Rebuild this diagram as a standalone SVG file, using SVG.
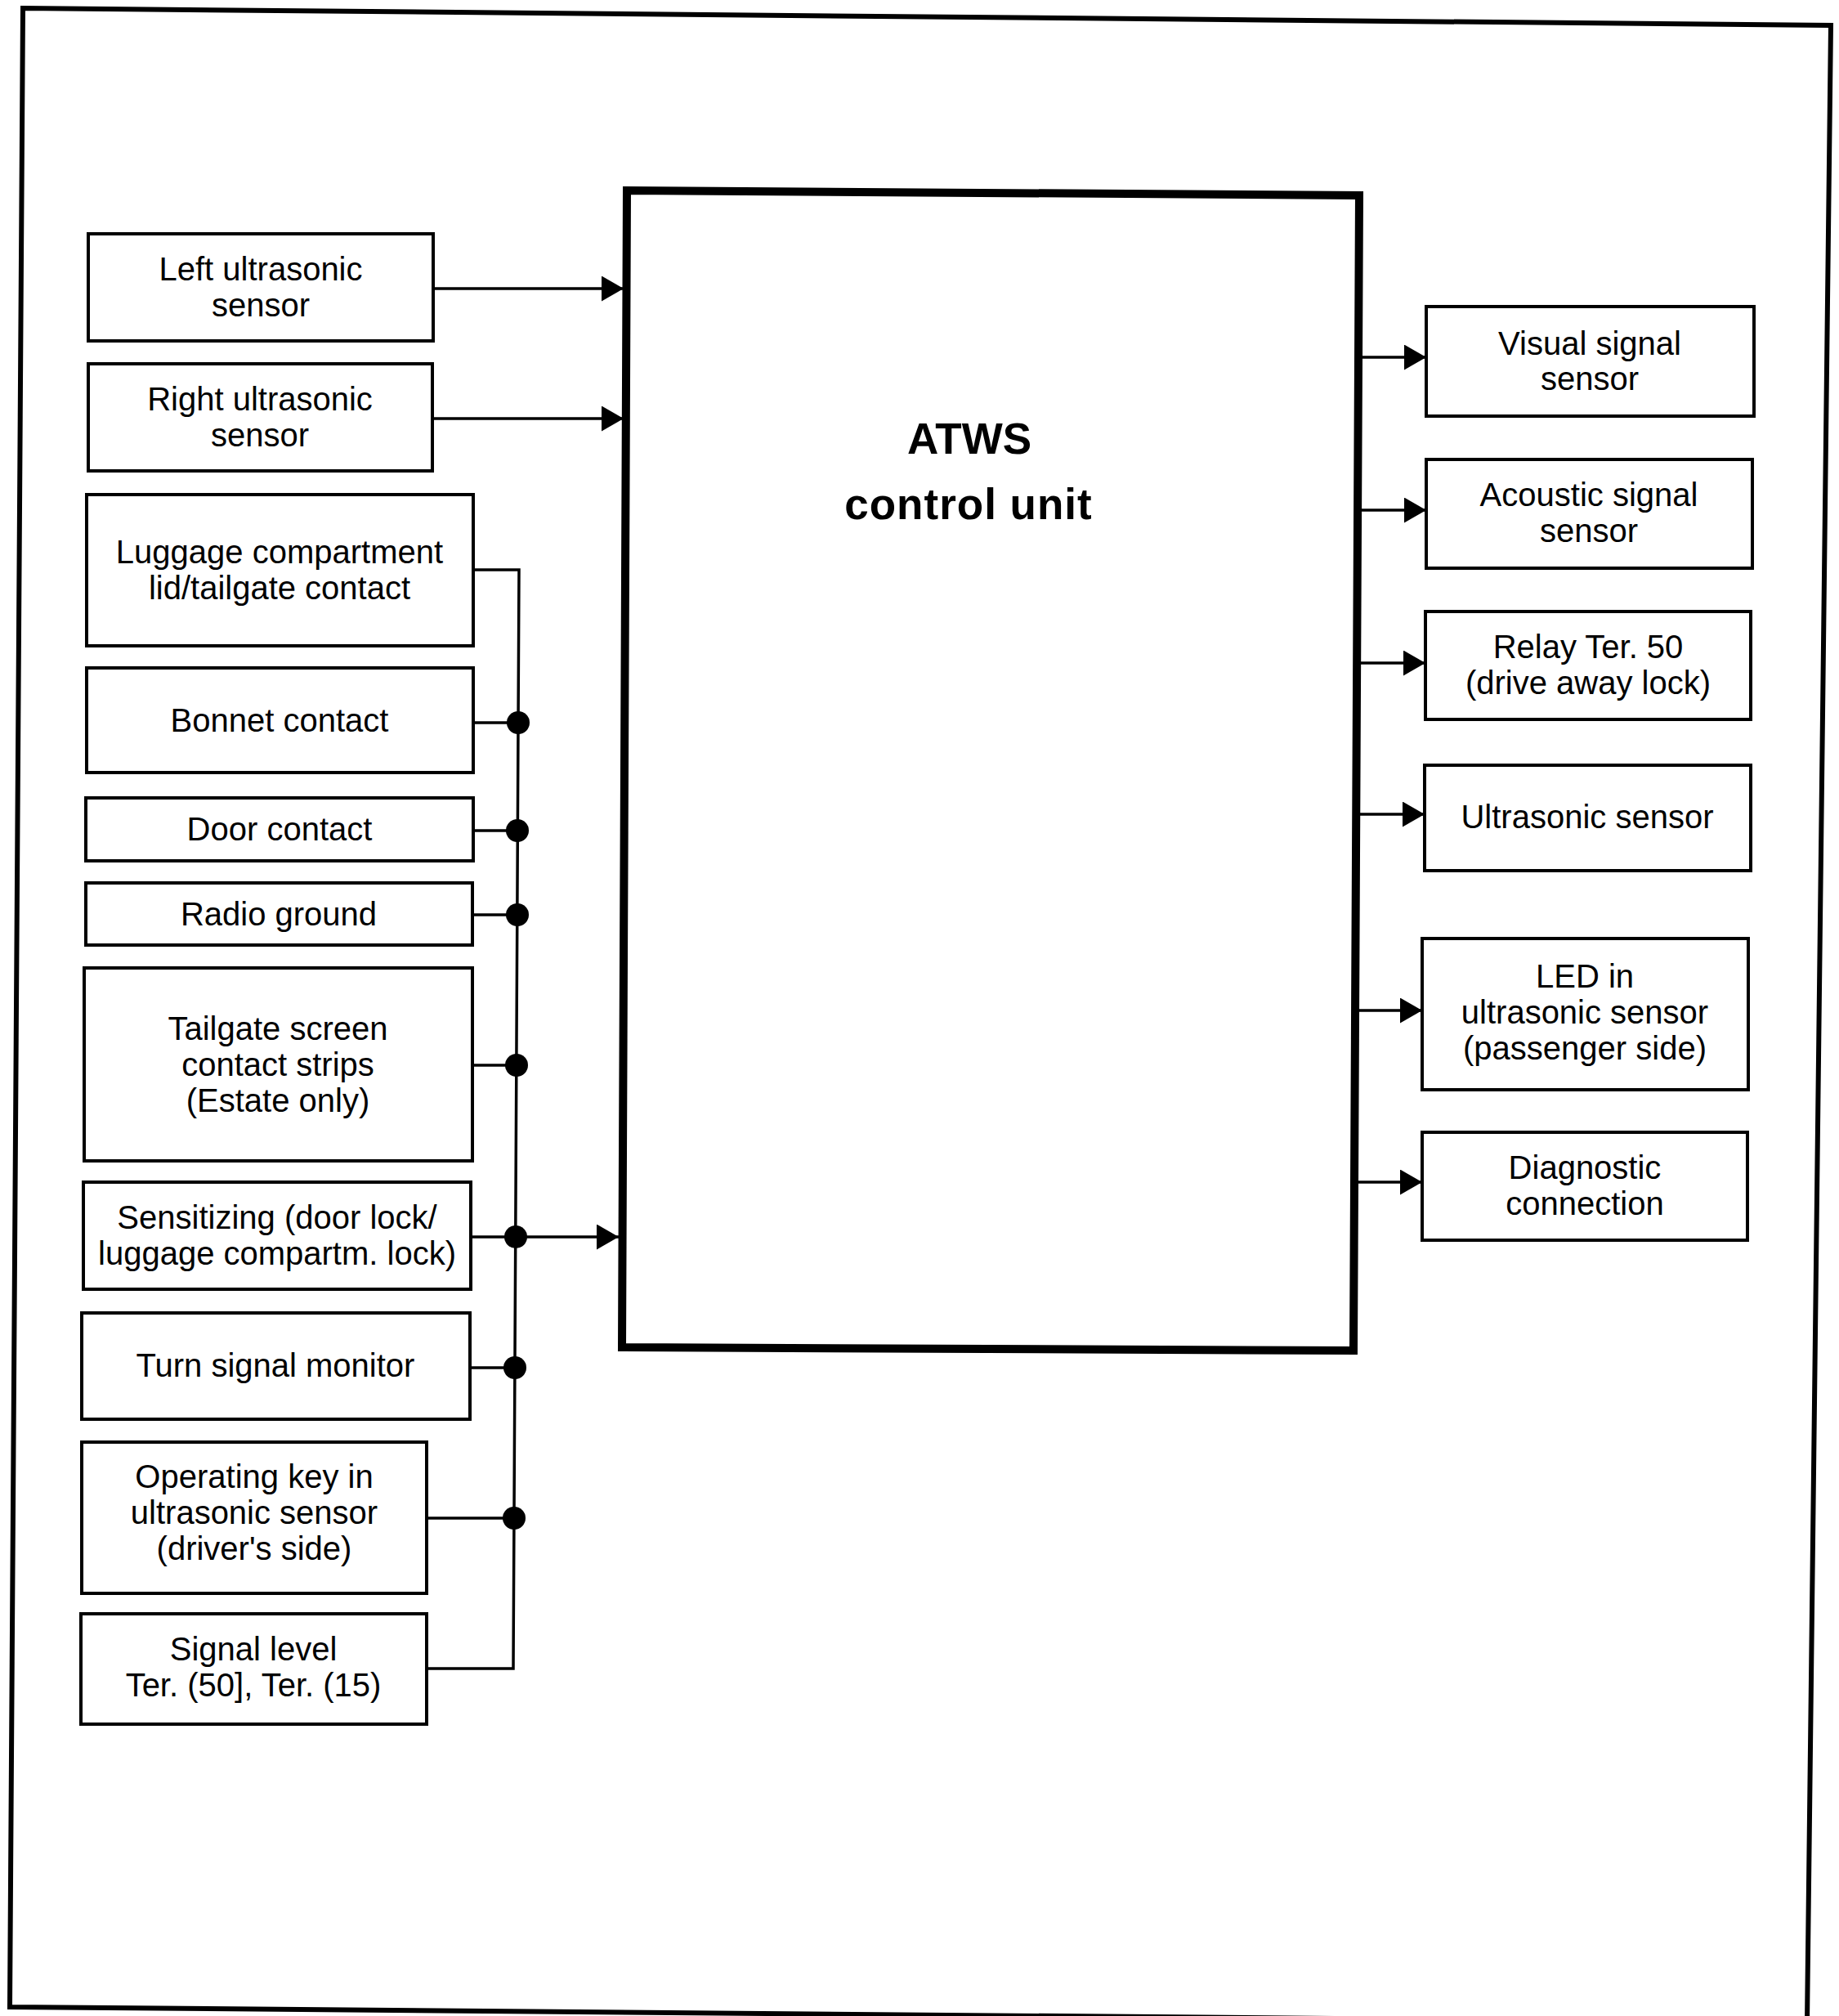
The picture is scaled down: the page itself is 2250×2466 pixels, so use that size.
<svg xmlns="http://www.w3.org/2000/svg" width="2250" height="2466" viewBox="0 0 2250 2466">
<style>
.box{fill:#fff;stroke:#000;stroke-width:4}
.t{font-family:"Liberation Sans",Arial,sans-serif;font-size:40px;fill:#000;text-anchor:middle}
.big{font-family:"Liberation Sans",Arial,sans-serif;font-size:53px;font-weight:bold;fill:#000;text-anchor:middle}
.w{fill:none;stroke:#000;stroke-width:3.5}
.dot{fill:#000}
</style>
<defs>
<marker id="ah" markerUnits="userSpaceOnUse" markerWidth="27" markerHeight="31" refX="27" refY="15.5" orient="auto">
<path d="M0,0 L27,15.5 L0,31 z" fill="#000"/>
</marker>
</defs>
<rect width="2250" height="2466" fill="#fff"/>
<polygon points="28,10 2240,31 2211,2474 12,2455" fill="none" stroke="#000" stroke-width="6"/>

<g id="control-unit">
<polygon points="767,233 1663,239 1656,1652 761,1648" fill="#fff" stroke="#000" stroke-width="10"/>
<text class="big" x="1186" y="555">ATWS</text>
<text class="big" x="1185" y="635" letter-spacing="1">control unit</text>
</g>

<g id="connectors">
<line class="w" x1="530" y1="353" x2="763" y2="353" marker-end="url(#ah)"/>
<line class="w" x1="529" y1="512" x2="763" y2="512" marker-end="url(#ah)"/>
<polyline class="w" points="579,697 635,697 628,2041 522,2041"/>
<line class="w" x1="579" y1="884" x2="634" y2="884"/>
<line class="w" x1="579" y1="1016" x2="633" y2="1016"/>
<line class="w" x1="578" y1="1119" x2="633" y2="1119"/>
<line class="w" x1="578" y1="1303" x2="632" y2="1303"/>
<line class="w" x1="576" y1="1513" x2="757" y2="1513" marker-end="url(#ah)"/>
<line class="w" x1="575" y1="1673" x2="630" y2="1673"/>
<line class="w" x1="522" y1="1857" x2="629" y2="1857"/>
<circle class="dot" cx="634" cy="884" r="14"/>
<circle class="dot" cx="633" cy="1016" r="14"/>
<circle class="dot" cx="633" cy="1119" r="14"/>
<circle class="dot" cx="632" cy="1303" r="14"/>
<circle class="dot" cx="631" cy="1513" r="14"/>
<circle class="dot" cx="630" cy="1673" r="14"/>
<circle class="dot" cx="629" cy="1857" r="14"/>
<line class="w" x1="1661" y1="437" x2="1745" y2="437" marker-end="url(#ah)"/>
<line class="w" x1="1661" y1="624" x2="1745" y2="624" marker-end="url(#ah)"/>
<line class="w" x1="1660" y1="811" x2="1744" y2="811" marker-end="url(#ah)"/>
<line class="w" x1="1659" y1="996" x2="1743" y2="996" marker-end="url(#ah)"/>
<line class="w" x1="1658" y1="1236" x2="1740" y2="1236" marker-end="url(#ah)"/>
<line class="w" x1="1657" y1="1446" x2="1740" y2="1446" marker-end="url(#ah)"/>
</g>

<g id="left-ultrasonic-sensor">
<rect class="box" x="108" y="286" width="422" height="131"/>
<text class="t" x="319" y="343">Left ultrasonic</text>
<text class="t" x="319" y="387">sensor</text>
</g>
<g id="right-ultrasonic-sensor">
<rect class="box" x="108" y="445" width="421" height="131"/>
<text class="t" x="318" y="502">Right ultrasonic</text>
<text class="t" x="318" y="546">sensor</text>
</g>
<g id="luggage-contact">
<rect class="box" x="106" y="605" width="473" height="185"/>
<text class="t" x="342" y="689">Luggage compartment</text>
<text class="t" x="342" y="733">lid/tailgate contact</text>
</g>
<g id="bonnet-contact">
<rect class="box" x="106" y="817" width="473" height="128"/>
<text class="t" x="342" y="895">Bonnet contact</text>
</g>
<g id="door-contact">
<rect class="box" x="105" y="976" width="474" height="77"/>
<text class="t" x="342" y="1028">Door contact</text>
</g>
<g id="radio-ground">
<rect class="box" x="105" y="1080" width="473" height="76"/>
<text class="t" x="341" y="1132">Radio ground</text>
</g>
<g id="tailgate-screen">
<rect class="box" x="103" y="1184" width="475" height="236"/>
<text class="t" x="340" y="1272">Tailgate screen</text>
<text class="t" x="340" y="1316">contact strips</text>
<text class="t" x="340" y="1360">(Estate only)</text>
</g>
<g id="sensitizing">
<rect class="box" x="102" y="1446" width="474" height="131"/>
<text class="t" x="339" y="1503">Sensitizing (door lock/</text>
<text class="t" x="339" y="1547">luggage compartm. lock)</text>
</g>
<g id="turn-signal-monitor">
<rect class="box" x="100" y="1606" width="475" height="130"/>
<text class="t" x="337" y="1684">Turn signal monitor</text>
</g>
<g id="operating-key">
<rect class="box" x="100" y="1764" width="422" height="185"/>
<text class="t" x="311" y="1820">Operating key in</text>
<text class="t" x="311" y="1864">ultrasonic sensor</text>
<text class="t" x="311" y="1908">(driver's side)</text>
</g>
<g id="signal-level">
<rect class="box" x="99" y="1974" width="423" height="135"/>
<text class="t" x="310" y="2031">Signal level</text>
<text class="t" x="310" y="2075">Ter. (50], Ter. (15)</text>
</g>

<g id="visual-signal-sensor">
<rect class="box" x="1745" y="375" width="401" height="134"/>
<text class="t" x="1945" y="434">Visual signal</text>
<text class="t" x="1945" y="477">sensor</text>
</g>
<g id="acoustic-signal-sensor">
<rect class="box" x="1745" y="562" width="399" height="133"/>
<text class="t" x="1944" y="619">Acoustic signal</text>
<text class="t" x="1944" y="663">sensor</text>
</g>
<g id="relay-ter-50">
<rect class="box" x="1744" y="748" width="398" height="132"/>
<text class="t" x="1943" y="805">Relay Ter. 50</text>
<text class="t" x="1943" y="849">(drive away lock)</text>
</g>
<g id="ultrasonic-sensor">
<rect class="box" x="1743" y="936" width="399" height="129"/>
<text class="t" x="1942" y="1013">Ultrasonic sensor</text>
</g>
<g id="led-ultrasonic-sensor">
<rect class="box" x="1740" y="1148" width="399" height="185"/>
<text class="t" x="1939" y="1208">LED in</text>
<text class="t" x="1939" y="1252">ultrasonic sensor</text>
<text class="t" x="1939" y="1296">(passenger side)</text>
</g>
<g id="diagnostic-connection">
<rect class="box" x="1740" y="1385" width="398" height="132"/>
<text class="t" x="1939" y="1442">Diagnostic</text>
<text class="t" x="1939" y="1486">connection</text>
</g>
</svg>
